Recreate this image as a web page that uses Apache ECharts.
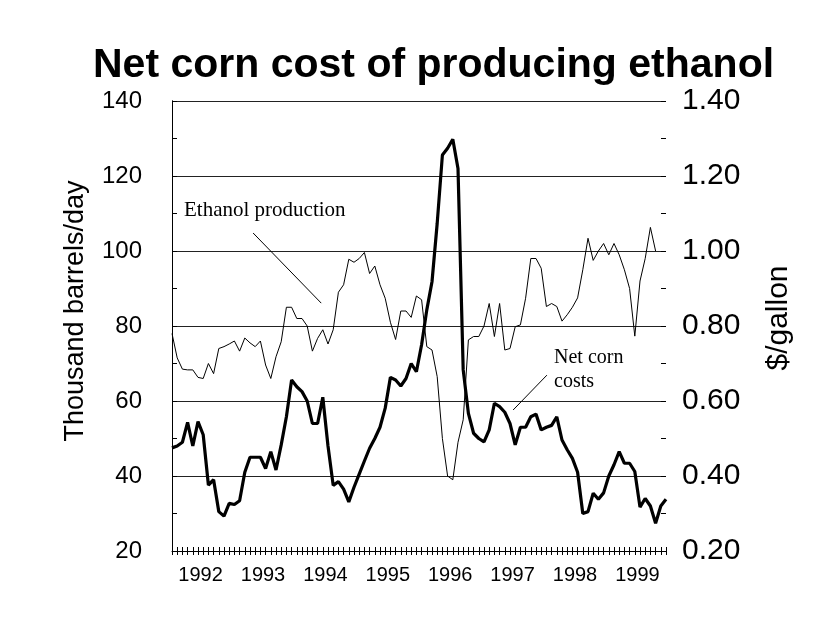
<!DOCTYPE html>
<html><head><meta charset="utf-8">
<script src="https://cdn.jsdelivr.net/npm/echarts@6/dist/echarts.min.js"></script>
<style>html,body{margin:0;padding:0;background:#fff}#c{width:823px;height:625px}</style>
</head><body><div id="c"></div>
<script>
var years = ['1992','1993','1994','1995','1996','1997','1998','1999'];
var leftTicks = [20, 40, 60, 80, 100, 120, 140];
var rightTicks = ['0.20','0.40','0.60','0.80','1.00','1.20','1.40'];
// Ethanol production, thousand barrels/day (monthly, Jan 1992 - Dec 1999)
var ethanol = [
 78, 71.5, 68.5, 68.3, 68.3, 66.3, 66, 70, 67.3, 74, 74.5, 75.2,
 76, 73.3, 76.8, 75.5, 74.5, 76, 69.6, 66, 71.8, 75.8, 85, 85,
 82, 82, 80, 73.3, 76.7, 79, 75.2, 79, 89, 91, 97.8, 97,
 98, 99.6, 94, 96, 91, 87.4, 81, 76.4, 84, 84, 82.3, 88,
 87, 74.5, 73.6, 66.5, 50, 40, 39, 49, 55, 76.3, 77.2, 77.2,
 80, 86, 77.2, 86, 73.6, 74, 79.8, 80.3, 87.4, 98, 98, 95.4,
 85.2, 86, 85.2, 81.3, 83, 85, 87.5, 95, 103.4, 97.5, 100, 102,
 99, 102, 99, 95, 90, 77.3, 92, 98, 106.3, 100, null, null
];
// Net corn costs, $/gallon
var corn = [
 0.475, 0.48, 0.49, 0.543, 0.48, 0.545, 0.51, 0.376, 0.39, 0.305, 0.293, 0.327,
 0.324, 0.334, 0.41, 0.45, 0.45, 0.45, 0.42, 0.465, 0.416, 0.483, 0.558, 0.656,
 0.638, 0.625, 0.60, 0.54, 0.54, 0.61, 0.48, 0.375, 0.385, 0.365, 0.331, 0.37,
 0.405, 0.44, 0.474, 0.50, 0.53, 0.581, 0.663, 0.656, 0.64, 0.66, 0.70, 0.678,
 0.75, 0.843, 0.918, 1.074, 1.256, 1.274, 1.298, 1.22, 0.683, 0.567, 0.514, 0.50,
 0.491, 0.523, 0.594, 0.585, 0.57, 0.54, 0.483, 0.53, 0.53, 0.558, 0.565, 0.523,
 0.53, 0.535, 0.558, 0.496, 0.47, 0.447, 0.41, 0.30, 0.305, 0.354, 0.338, 0.355,
 0.40, 0.43, 0.465, 0.434, 0.434, 0.412, 0.317, 0.34, 0.32, 0.274, 0.32, 0.338
];

var n = ethanol.length;
var monthTicks = [];
for (var i = 0; i < n; i++) monthTicks.push(i);
var yearCenters = years.map(function (y, k) { return k * 12 + 5.5; });
var leftMinor = [];
for (var t = 20; t <= 140; t += 10) leftMinor.push(t);
var rightMinor = leftMinor.map(function (t) { return t / 100; });
var ethData = ethanol.map(function (v, i) { return [i, v]; });
var cornData = corn.map(function (v, i) { return [i, v]; });

var chart = echarts.init(document.getElementById('c'), null, {renderer: 'canvas'});
var sans = 'Liberation Sans, Arial, sans-serif';
var serif = 'Liberation Serif, Times New Roman, serif';
function tickAxis(pos, min, max, ticks) {
  return {
    type: 'value', min: min, max: max, position: pos,
    axisLine: {show: false},
    axisTick: {show: true, inside: true, length: 5, customValues: ticks, lineStyle: {color: '#000'}},
    axisLabel: {show: false},
    splitLine: {show: false}
  };
}
chart.setOption({
  animation: false,
  backgroundColor: '#fff',
  title: {
    text: 'Net corn cost of producing ethanol',
    left: 88, top: 40,
    textStyle: {fontFamily: sans, fontWeight: 'bold', fontSize: 41, color: '#000'}
  },
  grid: {left: 172, right: 157, top: 101, bottom: 74, containLabel: false},
  xAxis: [{
    type: 'value', min: 0, max: n - 1, position: 'bottom',
    axisLine: {show: true, lineStyle: {color: '#000', width: 1}},
    axisTick: {show: true, customValues: monthTicks, length: 4, lineStyle: {color: '#000'}},
    axisLabel: {
      customValues: yearCenters, margin: 14, color: '#000',
      fontFamily: sans, fontSize: 20,
      formatter: function (v) { return years[Math.round((v - 5.5) / 12)]; }
    },
    splitLine: {show: false}
  }, {
    type: 'value', min: 0, max: n - 1, position: 'bottom',
    axisLine: {show: false},
    axisTick: {show: true, inside: true, customValues: monthTicks, length: 4, lineStyle: {color: '#000'}},
    axisLabel: {show: false},
    splitLine: {show: false}
  }],
  yAxis: [{
    type: 'value', min: leftTicks[0], max: leftTicks[leftTicks.length - 1], interval: 20,
    position: 'left',
    axisLine: {show: true, lineStyle: {color: '#000'}},
    axisTick: {show: false},
    axisLabel: {margin: 30, color: '#000', fontFamily: sans, fontSize: 24},
    splitLine: {show: true, lineStyle: {color: '#222', width: 1}}
  }, {
    type: 'value', min: 0.2, max: 1.4, interval: 0.2,
    position: 'right',
    axisLine: {show: true, lineStyle: {color: '#000'}},
    axisTick: {show: false},
    axisLabel: {margin: 16, color: '#000', fontFamily: sans, fontSize: 30,
      formatter: function (v) { return rightTicks[Math.round((v - 0.2) / 0.2)]; }},
    splitLine: {show: false}
  },
    tickAxis('left', 20, 140, leftMinor),
    tickAxis('right', 0.2, 1.4, rightMinor)
  ],
  series: [{
    name: 'Ethanol production', type: 'line', xAxisIndex: 0, yAxisIndex: 0,
    data: ethData, symbol: 'none', connectNulls: false,
    lineStyle: {color: '#000', width: 1},
    markLine: {
      silent: true, symbol: 'none', label: {show: false},
      lineStyle: {color: '#000', width: 1, type: 'solid'},
      data: [
        [{coord: [15.6, 104.8]}, {coord: [28.7, 86.1]}],
        [{coord: [72.1, 66.9]}, {coord: [65.6, 57.6]}]
      ]
    }
  }, {
    name: 'Net corn costs', type: 'line', xAxisIndex: 0, yAxisIndex: 1,
    data: cornData, symbol: 'none',
    lineStyle: {color: '#000', width: 3.2}
  }],
  graphic: [
    {type: 'text', x: 76, y: 311, rotation: Math.PI / 2,
      style: {text: 'Thousand barrels/day', font: '27px ' + sans, fill: '#000', align: 'center', verticalAlign: 'middle'}},
    {type: 'text', x: 779, y: 318, rotation: Math.PI / 2,
      style: {text: '$/gallon', font: '30px ' + sans, fill: '#000', align: 'center', verticalAlign: 'middle'}},
    {type: 'text', left: 184, top: 200, style: {text: 'Ethanol production', font: '21px ' + serif, fill: '#000'}},
    {type: 'text', left: 554, top: 346, style: {text: 'Net corn\ncosts', font: '20px ' + serif, fill: '#000', lineHeight: 24}}
  ]
});
</script></body></html>
